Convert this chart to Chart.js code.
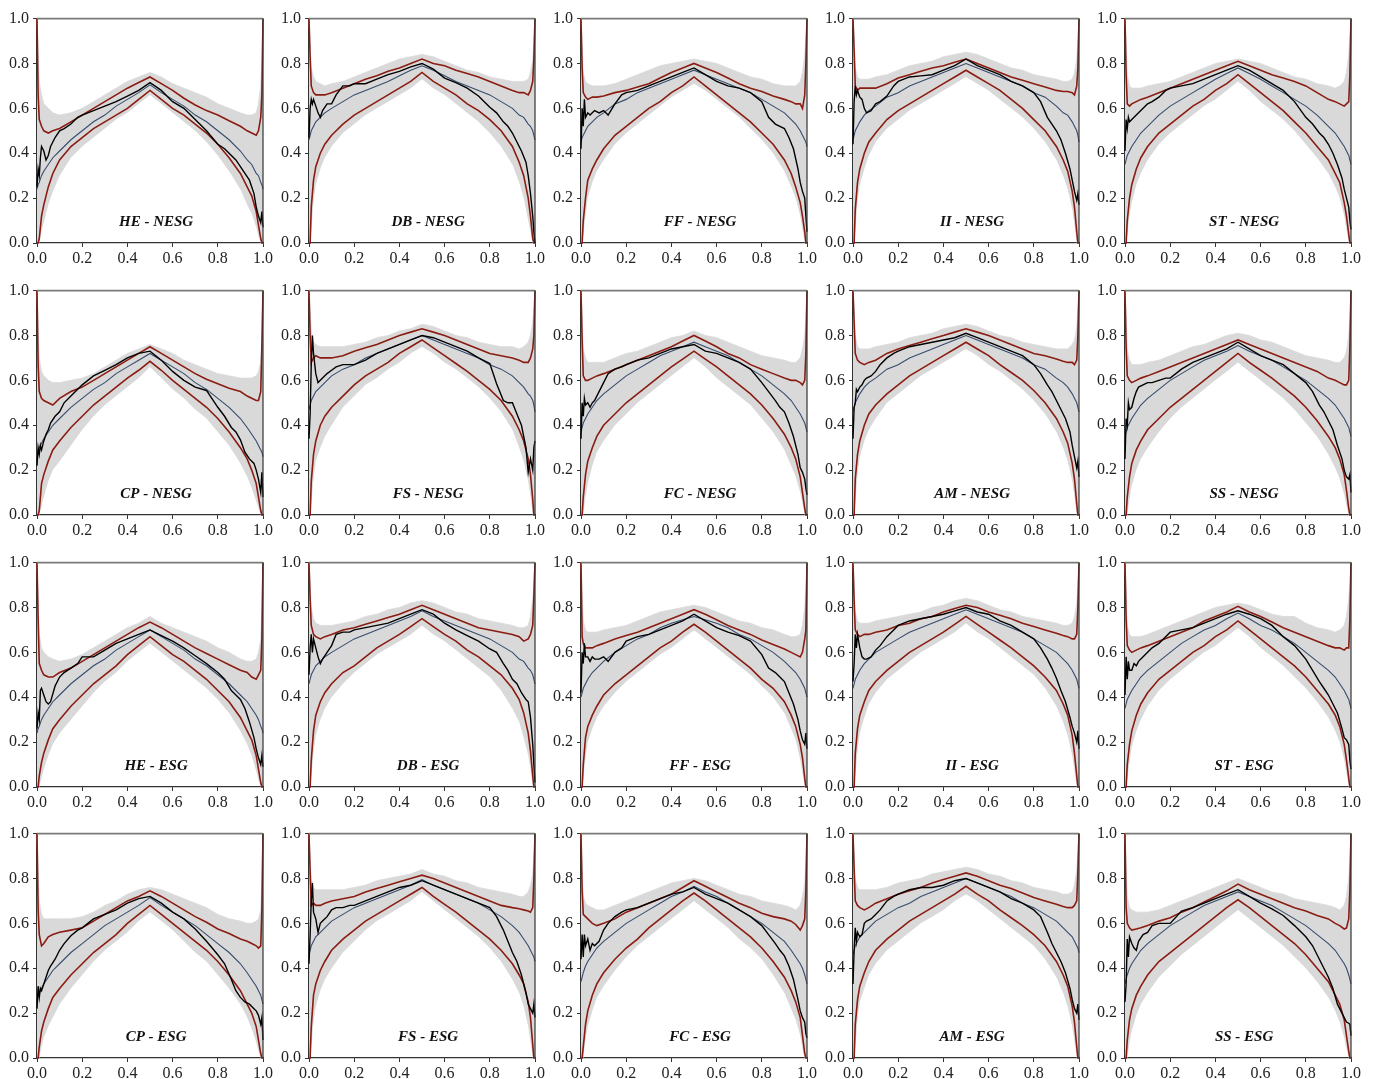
<!DOCTYPE html>
<html>
<head>
<meta charset="utf-8">
<script src="https://cdn.jsdelivr.net/npm/chart.js@4.4.1/dist/chart.umd.min.js"></script>
<style>
  html, body { margin: 0; padding: 0; background: #fff; }
  #grid { position: relative; width: 1377px; height: 1079px; overflow: hidden; }
  .cell { position: absolute; }
</style>
</head>
<body>
<div id="grid"></div>
<script>
// x positions shared by the simulation band, the envelopes and the theoretical curve
const xGrid = [0, .005, .01, .02, .03, .05, .07, .1, .15, .2, .25, .3, .35, .4, .45, .5,
  .55, .6, .65, .7, .75, .8, .85, .9, .93, .95, .97, .98, .99, .995, 1];

// x positions of the empirical curve
const xGridEmpirical = [0, .005, .01, .015, .02, .03, .04, .05, .06, .08, .1, .12, .15, .18, .2,
  .25, .3, .35, .4, .45, .5, .55, .6, .65, .7, .75, .8, .83, .86, .88, .9, .92, .94, .96, .97,
  .98, .99, .995, 1];

const panelTitles = [
  'HE - NESG', 'DB - NESG', 'FF - NESG', 'II - NESG', 'ST - NESG',
  'CP - NESG', 'FS - NESG', 'FC - NESG', 'AM - NESG', 'SS - NESG',
  'HE - ESG', 'DB - ESG', 'FF - ESG', 'II - ESG', 'ST - ESG',
  'CP - ESG', 'FS - ESG', 'FC - ESG', 'AM - ESG', 'SS - ESG'
];

// upper edge of the grey simulation band (one row per panel, same order as panelTitles)
const simBandUpper = [
  [1, .85, .72, .66, .62, .60, .58, .57, .58, .60, .63, .66, .69, .72, .74, .76, .74, .71, .69, .67, .65, .62, .60, .58, .57, .57, .58, .62, .70, .82, 1],
  [1, .88, .78, .74, .72, .71, .70, .71, .72, .74, .76, .78, .80, .82, .83, .84, .83, .81, .79, .77, .76, .74, .73, .72, .72, .72, .73, .76, .82, .90, 1],
  [1, .88, .76, .72, .71, .70, .70, .70, .71, .73, .75, .77, .79, .80, .81, .82, .81, .80, .78, .76, .74, .73, .71, .70, .70, .70, .72, .76, .84, .92, 1],
  [1, .90, .78, .74, .73, .73, .73, .74, .75, .77, .79, .80, .81, .83, .84, .85, .84, .82, .80, .78, .77, .75, .74, .73, .72, .72, .73, .76, .82, .90, 1],
  [1, .90, .75, .70, .69, .69, .69, .70, .71, .72, .74, .76, .78, .80, .81, .82, .81, .80, .78, .76, .74, .73, .71, .70, .69, .70, .72, .76, .84, .92, 1],
  [1, .82, .70, .64, .62, .60, .59, .59, .60, .61, .63, .66, .69, .72, .74, .76, .74, .72, .69, .67, .65, .63, .62, .61, .61, .61, .62, .64, .68, .80, 1],
  [1, .92, .82, .77, .76, .75, .75, .75, .75, .76, .77, .79, .80, .82, .83, .85, .84, .82, .80, .79, .77, .76, .75, .75, .74, .75, .77, .80, .86, .93, 1],
  [1, .88, .74, .70, .68, .68, .68, .68, .70, .72, .73, .75, .77, .79, .80, .82, .80, .79, .77, .75, .73, .71, .70, .69, .68, .68, .70, .74, .80, .88, 1],
  [1, .92, .80, .75, .74, .74, .74, .75, .76, .77, .79, .80, .81, .83, .84, .85, .84, .82, .80, .79, .77, .76, .75, .74, .74, .74, .76, .78, .84, .92, 1],
  [1, .88, .74, .69, .67, .67, .67, .68, .69, .71, .73, .75, .76, .78, .80, .81, .80, .78, .77, .75, .73, .71, .70, .69, .68, .68, .70, .73, .80, .88, 1],
  [1, .82, .68, .62, .60, .58, .57, .56, .57, .59, .62, .65, .68, .71, .73, .76, .73, .71, .69, .67, .65, .62, .60, .57, .56, .56, .57, .60, .66, .80, 1],
  [1, .90, .80, .75, .73, .72, .72, .72, .73, .74, .76, .77, .79, .80, .82, .83, .82, .80, .78, .77, .75, .74, .73, .72, .71, .71, .72, .76, .84, .92, 1],
  [1, .86, .74, .70, .69, .69, .69, .70, .71, .72, .74, .76, .78, .79, .80, .81, .80, .78, .76, .74, .73, .71, .70, .68, .67, .67, .68, .72, .80, .88, 1],
  [1, .90, .78, .74, .73, .73, .73, .74, .75, .76, .77, .78, .80, .81, .83, .84, .83, .81, .79, .78, .76, .75, .74, .73, .72, .72, .73, .76, .82, .90, 1],
  [1, .86, .72, .68, .67, .67, .67, .68, .70, .72, .74, .76, .78, .80, .81, .82, .81, .79, .77, .76, .76, .73, .71, .70, .69, .70, .72, .76, .84, .90, 1],
  [1, .82, .70, .64, .62, .62, .62, .62, .62, .63, .65, .68, .70, .73, .75, .76, .75, .73, .71, .69, .67, .64, .62, .61, .60, .60, .61, .62, .66, .80, 1],
  [1, .90, .80, .76, .75, .75, .75, .75, .75, .76, .77, .79, .80, .81, .82, .84, .82, .81, .79, .78, .76, .75, .74, .73, .72, .72, .74, .77, .82, .90, 1],
  [1, .86, .72, .69, .68, .67, .66, .66, .68, .70, .72, .74, .76, .78, .79, .80, .79, .77, .75, .73, .72, .70, .69, .68, .67, .66, .68, .72, .78, .88, 1],
  [1, .92, .80, .76, .75, .75, .75, .75, .76, .78, .79, .80, .82, .83, .84, .85, .84, .82, .81, .79, .78, .76, .75, .74, .73, .73, .74, .77, .84, .92, 1],
  [1, .86, .72, .67, .66, .65, .65, .65, .66, .68, .70, .72, .74, .76, .78, .80, .78, .76, .74, .73, .71, .70, .69, .68, .67, .66, .68, .72, .80, .88, 1]
];

// lower edge of the grey simulation band
const simBandLower = [
  [0, 0, 0, .05, .09, .17, .23, .30, .38, .43, .47, .51, .55, .58, .62, .66, .62, .58, .54, .50, .45, .39, .32, .24, .17, .13, .07, .03, 0, 0, 0],
  [0, 0, .05, .18, .26, .33, .38, .43, .49, .53, .57, .60, .63, .66, .69, .73, .69, .66, .62, .58, .54, .49, .43, .35, .27, .20, .10, .05, 0, 0, 0],
  [0, 0, .03, .12, .20, .27, .32, .37, .44, .49, .53, .57, .61, .65, .68, .71, .68, .64, .60, .56, .51, .46, .40, .32, .25, .20, .12, .06, 0, 0, 0],
  [0, 0, .05, .18, .26, .33, .39, .45, .51, .55, .59, .62, .65, .68, .71, .74, .71, .68, .64, .60, .56, .51, .45, .37, .30, .24, .15, .08, 0, 0, 0],
  [0, 0, .03, .12, .18, .26, .31, .37, .44, .49, .53, .57, .61, .64, .68, .72, .68, .63, .59, .55, .50, .44, .38, .31, .25, .20, .12, .06, 0, 0, 0],
  [0, 0, 0, .04, .08, .15, .20, .24, .31, .38, .44, .49, .53, .57, .61, .66, .61, .56, .52, .47, .43, .37, .31, .23, .17, .12, .06, .03, 0, 0, 0],
  [0, 0, .04, .16, .24, .30, .35, .40, .48, .53, .58, .61, .65, .68, .72, .75, .72, .68, .65, .61, .57, .52, .46, .38, .30, .24, .15, .08, 0, 0, 0],
  [0, 0, 0, .08, .14, .22, .28, .33, .40, .45, .50, .54, .58, .62, .66, .70, .66, .61, .57, .53, .49, .43, .37, .29, .22, .17, .10, .05, 0, 0, 0],
  [0, 0, .05, .18, .26, .33, .38, .43, .50, .54, .58, .62, .65, .68, .71, .74, .71, .67, .64, .60, .56, .51, .45, .37, .30, .24, .15, .08, 0, 0, 0],
  [0, 0, 0, .07, .13, .20, .25, .30, .37, .43, .48, .52, .56, .60, .64, .68, .64, .60, .56, .52, .47, .41, .35, .27, .21, .16, .09, .04, 0, 0, 0],
  [0, 0, 0, .04, .08, .14, .19, .24, .30, .36, .42, .47, .51, .56, .60, .64, .60, .56, .52, .48, .44, .39, .33, .25, .19, .14, .07, .03, 0, 0, 0],
  [0, 0, .04, .15, .23, .30, .35, .40, .46, .51, .55, .59, .62, .65, .68, .72, .68, .65, .61, .57, .53, .49, .43, .35, .29, .22, .14, .08, 0, 0, 0],
  [0, 0, .03, .13, .20, .26, .31, .36, .42, .47, .51, .55, .59, .62, .66, .70, .66, .62, .58, .54, .50, .45, .40, .33, .26, .21, .12, .06, 0, 0, 0],
  [0, 0, .04, .16, .24, .31, .37, .42, .48, .52, .56, .60, .63, .66, .69, .73, .69, .66, .62, .58, .54, .50, .44, .36, .29, .23, .14, .07, 0, 0, 0],
  [0, 0, .03, .11, .18, .25, .30, .36, .43, .48, .52, .56, .60, .63, .67, .71, .67, .62, .58, .54, .49, .44, .38, .31, .25, .20, .12, .06, 0, 0, 0],
  [0, 0, 0, .05, .09, .14, .18, .24, .31, .37, .43, .48, .52, .56, .61, .65, .61, .57, .52, .47, .43, .37, .31, .24, .18, .13, .07, .03, 0, 0, 0],
  [0, 0, .04, .16, .23, .30, .35, .40, .47, .52, .57, .61, .64, .67, .70, .74, .70, .66, .62, .58, .54, .49, .43, .35, .29, .23, .14, .07, 0, 0, 0],
  [0, 0, 0, .08, .14, .21, .27, .32, .39, .45, .50, .54, .58, .62, .66, .70, .66, .62, .58, .53, .49, .44, .37, .29, .22, .17, .10, .04, 0, 0, 0],
  [0, 0, .04, .17, .25, .31, .37, .42, .48, .52, .56, .60, .63, .66, .70, .73, .70, .66, .62, .58, .54, .50, .44, .36, .29, .23, .14, .07, 0, 0, 0],
  [0, 0, 0, .07, .12, .19, .24, .29, .36, .41, .46, .50, .54, .58, .62, .66, .62, .58, .54, .50, .45, .40, .34, .27, .21, .16, .09, .04, 0, 0, 0]
];

// upper confidence envelope (dark red)
const envelopeUpper = [
  [1, .66, .55, .52, .50, .49, .50, .51, .54, .57, .60, .63, .66, .69, .715, .74, .71, .68, .645, .615, .59, .57, .545, .52, .50, .49, .48, .50, .56, .66, 1],
  [1, .83, .70, .67, .66, .66, .66, .67, .69, .71, .73, .745, .765, .78, .80, .82, .80, .79, .77, .755, .74, .72, .70, .68, .67, .67, .66, .68, .72, .82, 1],
  [1, .78, .67, .65, .64, .65, .65, .655, .67, .68, .695, .71, .735, .76, .78, .80, .78, .76, .735, .71, .69, .675, .655, .64, .63, .62, .62, .60, .66, .80, 1],
  [1, .86, .70, .68, .69, .69, .69, .69, .71, .735, .75, .765, .78, .79, .805, .82, .80, .78, .76, .74, .725, .71, .695, .68, .675, .675, .67, .66, .70, .78, 1],
  [1, .75, .62, .61, .62, .63, .64, .65, .67, .69, .71, .73, .75, .77, .79, .81, .79, .77, .75, .735, .72, .70, .67, .64, .63, .62, .61, .62, .63, .75, 1],
  [1, .67, .55, .52, .51, .50, .49, .52, .55, .57, .60, .63, .66, .69, .72, .75, .72, .69, .66, .63, .605, .585, .565, .55, .53, .52, .51, .51, .55, .75, 1],
  [1, .80, .68, .70, .71, .70, .70, .70, .71, .73, .745, .76, .78, .80, .815, .83, .815, .80, .78, .76, .74, .72, .71, .70, .69, .68, .68, .70, .74, .80, 1],
  [1, .78, .62, .60, .60, .61, .62, .63, .65, .67, .69, .71, .73, .75, .775, .80, .775, .75, .72, .70, .67, .65, .63, .61, .60, .60, .59, .58, .60, .72, 1],
  [1, .86, .72, .69, .68, .67, .68, .69, .72, .74, .755, .77, .785, .80, .815, .83, .815, .80, .78, .76, .74, .72, .71, .695, .685, .68, .68, .67, .69, .80, 1],
  [1, .75, .62, .60, .59, .60, .61, .62, .64, .66, .68, .70, .72, .74, .76, .78, .76, .74, .72, .70, .68, .66, .64, .61, .60, .59, .58, .58, .60, .75, 1],
  [1, .75, .55, .52, .50, .49, .49, .51, .53, .56, .59, .62, .65, .68, .71, .735, .71, .68, .65, .62, .595, .57, .545, .52, .51, .49, .48, .50, .52, .66, 1],
  [1, .84, .72, .68, .67, .66, .67, .68, .70, .71, .725, .74, .755, .77, .79, .81, .79, .77, .75, .73, .71, .70, .69, .68, .67, .65, .66, .68, .72, .85, 1],
  [1, .67, .64, .62, .62, .62, .63, .64, .66, .675, .69, .71, .73, .75, .77, .79, .77, .745, .72, .70, .68, .655, .635, .615, .60, .59, .58, .60, .66, .70, 1],
  [1, .83, .70, .68, .67, .68, .68, .69, .70, .72, .73, .75, .76, .78, .795, .81, .80, .78, .765, .75, .73, .715, .70, .685, .675, .67, .66, .66, .68, .80, 1],
  [1, .75, .63, .61, .60, .61, .62, .63, .65, .67, .69, .71, .74, .76, .78, .805, .78, .76, .735, .71, .69, .67, .65, .63, .62, .62, .61, .62, .62, .75, 1],
  [1, .66, .55, .50, .51, .54, .55, .56, .57, .58, .61, .64, .67, .70, .72, .745, .72, .69, .66, .63, .605, .575, .555, .53, .52, .51, .50, .49, .50, .66, 1],
  [1, .83, .68, .69, .68, .68, .69, .70, .71, .72, .74, .755, .77, .785, .80, .815, .80, .78, .76, .74, .72, .70, .68, .67, .665, .66, .655, .65, .67, .80, 1],
  [1, .75, .64, .63, .62, .60, .59, .60, .62, .65, .67, .69, .71, .73, .76, .79, .765, .74, .715, .69, .67, .645, .63, .62, .61, .595, .57, .59, .62, .75, 1],
  [1, .84, .70, .68, .67, .66, .67, .69, .71, .73, .745, .76, .78, .795, .81, .825, .81, .79, .77, .755, .735, .715, .70, .685, .675, .67, .67, .68, .70, .83, 1],
  [1, .67, .60, .58, .57, .575, .58, .59, .61, .625, .65, .67, .695, .72, .745, .775, .75, .73, .71, .69, .67, .655, .635, .62, .60, .59, .575, .58, .62, .75, 1]
];

// lower confidence envelope (dark red)
const envelopeLower = [
  [0, 0, .02, .12, .17, .25, .31, .37, .43, .47, .51, .54, .57, .60, .64, .68, .64, .60, .57, .53, .49, .44, .38, .31, .25, .21, .14, .08, .02, 0, 0],
  [0, 0, .16, .28, .34, .40, .44, .48, .53, .57, .60, .63, .66, .69, .72, .76, .72, .69, .66, .62, .59, .55, .50, .43, .36, .30, .20, .12, .02, 0, 0],
  [0, 0, .10, .20, .28, .33, .37, .42, .48, .52, .56, .60, .63, .67, .70, .74, .70, .66, .62, .58, .54, .49, .44, .37, .31, .25, .18, .12, .05, 0, 0],
  [0, 0, .15, .27, .33, .40, .45, .49, .55, .59, .62, .65, .68, .71, .74, .77, .74, .71, .68, .64, .60, .55, .50, .43, .37, .32, .23, .16, .05, 0, 0],
  [0, 0, .10, .20, .26, .33, .38, .43, .49, .53, .57, .61, .64, .68, .71, .75, .71, .67, .63, .59, .54, .49, .43, .37, .31, .27, .18, .12, .04, 0, 0],
  [0, 0, .02, .14, .18, .24, .29, .33, .39, .44, .49, .53, .57, .61, .645, .685, .645, .60, .56, .52, .48, .43, .37, .30, .25, .20, .14, .08, .02, 0, 0],
  [0, 0, .15, .27, .33, .40, .44, .48, .53, .58, .62, .65, .68, .72, .75, .78, .745, .71, .675, .64, .60, .56, .51, .44, .38, .33, .25, .18, .07, 0, 0],
  [0, 0, .08, .18, .24, .30, .35, .40, .45, .50, .54, .58, .62, .66, .695, .73, .695, .66, .62, .58, .54, .49, .43, .36, .30, .25, .17, .10, .03, 0, 0],
  [0, 0, .16, .27, .33, .40, .45, .49, .54, .58, .62, .65, .68, .71, .74, .77, .74, .71, .67, .635, .60, .555, .50, .43, .37, .32, .23, .16, .05, 0, 0],
  [0, 0, .08, .17, .23, .29, .33, .38, .43, .48, .52, .56, .60, .64, .68, .72, .68, .645, .61, .57, .53, .48, .42, .35, .30, .25, .18, .11, .03, 0, 0],
  [0, 0, .05, .11, .15, .21, .26, .30, .36, .41, .46, .50, .54, .59, .63, .67, .63, .59, .56, .52, .48, .43, .38, .31, .25, .21, .14, .08, .02, 0, 0],
  [0, 0, .12, .25, .32, .38, .42, .46, .51, .54, .58, .62, .65, .68, .715, .75, .715, .68, .65, .61, .58, .54, .50, .44, .39, .33, .24, .16, .05, 0, 0],
  [0, 0, .10, .22, .27, .32, .36, .41, .46, .50, .54, .58, .62, .65, .69, .725, .69, .65, .61, .57, .53, .48, .44, .38, .32, .27, .19, .13, .04, 0, 0],
  [0, 0, .15, .26, .32, .38, .43, .47, .52, .56, .60, .63, .66, .69, .725, .76, .725, .69, .655, .62, .58, .54, .49, .43, .37, .32, .23, .15, .05, 0, 0],
  [0, 0, .10, .19, .25, .32, .37, .42, .48, .52, .56, .60, .63, .67, .70, .74, .70, .66, .62, .58, .54, .49, .43, .37, .32, .27, .19, .12, .04, 0, 0],
  [0, 0, .05, .12, .16, .22, .27, .31, .37, .42, .47, .51, .55, .60, .64, .68, .64, .60, .56, .52, .48, .43, .37, .30, .24, .20, .14, .08, .02, 0, 0],
  [0, 0, .14, .28, .33, .39, .43, .48, .53, .57, .61, .64, .67, .70, .73, .76, .72, .685, .65, .61, .57, .53, .48, .42, .37, .33, .25, .18, .06, 0, 0],
  [0, 0, .05, .15, .21, .28, .33, .38, .44, .49, .53, .58, .62, .66, .70, .735, .70, .66, .62, .58, .54, .49, .43, .36, .30, .25, .18, .10, .02, 0, 0],
  [0, 0, .15, .26, .32, .38, .43, .48, .53, .57, .61, .64, .67, .70, .73, .765, .73, .70, .66, .625, .59, .55, .50, .43, .37, .32, .23, .16, .05, 0, 0],
  [0, 0, .08, .17, .22, .28, .32, .37, .43, .47, .51, .55, .59, .63, .67, .705, .67, .63, .59, .55, .51, .46, .40, .34, .28, .24, .17, .10, .03, 0, 0]
];

// theoretical curve (slate blue)
const theoretical = [
  [.24, .26, .27, .30, .32, .35, .38, .41, .46, .50, .54, .57, .61, .64, .67, .705, .67, .64, .61, .57, .54, .50, .46, .41, .37, .35, .31, .30, .27, .26, .24],
  [.46, .48, .50, .52, .54, .56, .58, .60, .63, .66, .68, .70, .72, .745, .77, .79, .77, .745, .72, .70, .68, .66, .63, .60, .57, .56, .53, .52, .50, .48, .46],
  [.45, .47, .48, .50, .52, .54, .56, .58, .62, .64, .67, .69, .71, .73, .75, .77, .75, .73, .71, .69, .67, .64, .61, .58, .55, .53, .50, .48, .46, .45, .43],
  [.46, .48, .50, .52, .54, .57, .59, .61, .65, .67, .70, .72, .74, .76, .78, .80, .78, .76, .74, .72, .70, .67, .65, .61, .58, .57, .54, .52, .50, .48, .45],
  [.35, .37, .39, .41, .43, .46, .49, .52, .57, .61, .64, .67, .70, .73, .755, .78, .755, .73, .70, .67, .64, .61, .57, .52, .49, .46, .43, .41, .39, .37, .35],
  [.27, .29, .30, .32, .34, .37, .40, .43, .48, .52, .56, .59, .63, .66, .69, .72, .69, .66, .63, .59, .56, .52, .48, .43, .39, .36, .33, .31, .29, .28, .26],
  [.47, .49, .51, .53, .55, .57, .59, .62, .65, .67, .70, .72, .74, .76, .78, .80, .78, .76, .74, .72, .70, .67, .65, .62, .59, .57, .54, .53, .51, .49, .46],
  [.37, .39, .41, .43, .45, .48, .51, .54, .58, .62, .65, .68, .71, .73, .75, .77, .75, .73, .71, .68, .65, .62, .58, .54, .51, .48, .45, .43, .41, .39, .37],
  [.46, .48, .50, .52, .54, .57, .59, .61, .65, .67, .70, .72, .74, .76, .78, .80, .78, .76, .74, .72, .70, .67, .65, .61, .59, .57, .54, .52, .50, .48, .46],
  [.35, .37, .39, .41, .43, .46, .49, .52, .56, .60, .63, .66, .69, .71, .73, .755, .73, .71, .69, .66, .63, .60, .56, .52, .49, .46, .43, .41, .39, .37, .35],
  [.24, .26, .27, .30, .32, .35, .38, .41, .46, .50, .54, .57, .61, .64, .67, .70, .67, .64, .61, .57, .54, .50, .46, .41, .38, .35, .32, .30, .27, .26, .24],
  [.46, .48, .50, .52, .54, .56, .58, .60, .63, .66, .68, .70, .72, .74, .76, .785, .76, .74, .72, .70, .68, .66, .63, .60, .57, .56, .53, .52, .50, .48, .46],
  [.40, .42, .44, .46, .48, .51, .53, .56, .60, .63, .66, .68, .71, .73, .745, .76, .745, .73, .71, .68, .66, .63, .60, .56, .53, .51, .48, .46, .44, .42, .40],
  [.44, .46, .48, .50, .52, .55, .57, .60, .63, .66, .69, .71, .73, .75, .77, .79, .77, .75, .73, .71, .69, .66, .63, .60, .57, .55, .52, .50, .48, .46, .44],
  [.35, .37, .39, .41, .43, .46, .49, .52, .56, .60, .64, .67, .70, .72, .75, .775, .75, .72, .70, .67, .64, .60, .56, .52, .49, .46, .43, .41, .39, .37, .35],
  [.27, .28, .29, .31, .33, .36, .39, .42, .47, .51, .55, .59, .62, .65, .68, .715, .68, .65, .62, .59, .55, .51, .47, .42, .38, .35, .32, .30, .28, .26, .24],
  [.46, .48, .50, .52, .54, .56, .58, .61, .64, .67, .69, .71, .73, .75, .77, .795, .77, .75, .73, .71, .69, .66, .63, .59, .56, .53, .50, .48, .46, .45, .43],
  [.34, .36, .38, .41, .43, .46, .49, .52, .56, .60, .63, .66, .69, .72, .74, .765, .74, .72, .69, .66, .63, .60, .56, .52, .48, .45, .42, .40, .37, .35, .33],
  [.46, .48, .50, .52, .54, .56, .58, .61, .64, .67, .69, .72, .74, .76, .78, .80, .78, .76, .74, .72, .69, .67, .64, .61, .58, .56, .54, .52, .50, .49, .47],
  [.33, .35, .37, .40, .42, .45, .48, .51, .55, .59, .62, .65, .68, .70, .72, .74, .72, .70, .68, .65, .62, .59, .55, .51, .48, .45, .42, .40, .37, .35, .33]
];

// empirical curve (black), sampled on xGridEmpirical
const empirical = [
  [.25, .33, .30, .38, .43, .41, .37, .39, .43, .47, .50, .51, .53, .56, .57, .59, .61, .63, .655, .68, .715, .68, .63, .60, .55, .50, .44, .42, .39, .37, .34, .31, .28, .22, .16, .12, .09, .14, .07],
  [.47, .60, .64, .62, .64, .61, .58, .56, .59, .62, .62, .66, .70, .70, .71, .71, .73, .75, .765, .785, .80, .775, .735, .715, .69, .655, .605, .58, .54, .52, .49, .45, .41, .36, .30, .22, .12, .05, 0],
  [.42, .60, .52, .64, .56, .58, .57, .58, .59, .58, .59, .57, .62, .66, .67, .68, .70, .72, .74, .76, .78, .75, .72, .70, .69, .67, .63, .56, .53, .52, .51, .47, .42, .33, .27, .23, .20, .12, .05],
  [.44, .63, .70, .66, .68, .65, .64, .60, .58, .59, .62, .63, .655, .70, .72, .74, .745, .75, .77, .79, .82, .79, .77, .75, .72, .70, .67, .63, .56, .53, .50, .46, .40, .33, .28, .23, .19, .22, .17],
  [.41, .55, .51, .56, .54, .55, .56, .57, .58, .60, .62, .63, .65, .68, .69, .70, .71, .73, .75, .77, .79, .77, .74, .71, .68, .63, .56, .53, .49, .47, .44, .40, .35, .29, .24, .20, .16, .10, .06],
  [.22, .30, .27, .31, .29, .33, .36, .38, .41, .44, .46, .50, .53, .56, .58, .62, .645, .67, .70, .72, .73, .69, .64, .60, .57, .555, .48, .44, .39, .37, .335, .28, .25, .23, .20, .16, .10, .19, .08],
  [.34, .45, .67, .80, .72, .63, .59, .60, .61, .63, .645, .66, .67, .67, .67, .69, .72, .74, .76, .78, .80, .79, .77, .75, .73, .70, .675, .585, .51, .50, .50, .45, .40, .30, .19, .25, .20, .30, .33],
  [.34, .50, .44, .52, .49, .50, .48, .50, .51, .55, .59, .63, .65, .66, .67, .69, .70, .72, .74, .75, .76, .73, .72, .70, .68, .65, .59, .55, .51, .48, .46, .41, .35, .27, .21, .19, .16, .12, .09],
  [.34, .48, .50, .56, .55, .57, .58, .60, .61, .62, .64, .67, .70, .72, .73, .75, .76, .77, .78, .79, .81, .79, .77, .75, .73, .71, .67, .63, .58, .55, .51, .47, .43, .37, .31, .26, .21, .24, .17],
  [.25, .43, .40, .50, .47, .48, .52, .55, .57, .58, .59, .59, .60, .61, .61, .65, .68, .70, .72, .74, .77, .74, .71, .69, .67, .63, .59, .55, .49, .46, .42, .38, .31, .25, .20, .17, .16, .18, .10],
  [.26, .33, .30, .43, .44, .41, .38, .37, .38, .45, .49, .51, .53, .55, .58, .58, .61, .64, .66, .68, .70, .675, .65, .62, .585, .55, .51, .48, .43, .41, .39, .35, .29, .22, .17, .13, .10, .14, .09],
  [.50, .62, .68, .60, .66, .62, .58, .55, .57, .60, .63, .68, .69, .69, .70, .71, .72, .73, .75, .77, .79, .77, .73, .70, .675, .65, .615, .60, .55, .52, .48, .46, .42, .39, .38, .31, .19, .10, .02],
  [.42, .60, .55, .64, .58, .58, .56, .58, .57, .57, .58, .56, .60, .62, .65, .67, .68, .70, .72, .74, .77, .74, .71, .69, .675, .65, .59, .53, .51, .49, .47, .42, .37, .30, .25, .21, .19, .24, .17],
  [.47, .55, .68, .62, .68, .62, .58, .57, .57, .58, .61, .63, .67, .70, .72, .74, .75, .76, .77, .785, .80, .78, .77, .74, .72, .69, .66, .62, .57, .53, .485, .43, .38, .31, .27, .24, .20, .25, .17],
  [.41, .58, .48, .56, .52, .52, .55, .54, .56, .58, .60, .62, .64, .67, .69, .70, .71, .73, .75, .77, .785, .77, .75, .72, .67, .63, .57, .52, .47, .44, .41, .37, .33, .26, .22, .21, .19, .12, .08],
  [.22, .32, .27, .31, .30, .33, .36, .39, .41, .44, .48, .51, .545, .57, .58, .62, .64, .66, .69, .71, .72, .69, .65, .62, .575, .52, .46, .42, .35, .30, .27, .25, .24, .22, .21, .19, .15, .18, .08],
  [.42, .55, .70, .78, .65, .62, .56, .60, .61, .63, .66, .67, .67, .68, .68, .70, .72, .74, .76, .77, .79, .77, .75, .73, .71, .69, .67, .63, .57, .52, .47, .43, .37, .29, .24, .22, .20, .24, .18],
  [.44, .55, .45, .55, .50, .53, .48, .51, .50, .52, .57, .60, .63, .65, .66, .67, .69, .71, .73, .74, .76, .73, .71, .69, .66, .63, .59, .55, .51, .48, .455, .41, .35, .26, .21, .18, .16, .11, .09],
  [.33, .48, .58, .52, .56, .54, .55, .60, .61, .62, .64, .66, .70, .72, .73, .75, .76, .76, .77, .79, .80, .78, .76, .74, .71, .69, .66, .63, .56, .51, .47, .43, .38, .31, .26, .22, .20, .24, .17],
  [.25, .33, .53, .45, .54, .51, .49, .48, .52, .55, .56, .59, .60, .60, .60, .655, .67, .69, .71, .73, .75, .72, .69, .665, .635, .59, .54, .50, .44, .40, .36, .31, .24, .20, .18, .16, .155, .15, .10]
];

// ---- layout: 5 columns x 4 rows of square plot areas ----
const PLOT = 226;
const colLeft = [37, 309, 581, 853, 1125];
const rowTop = [17, 289, 561, 832];
const PAD_L = 40, PAD_T = 12, PAD_R = 12, PAD_B = 30;

const RED = '#8a1c12';
const SLATE = '#354b6e';
const BAND = '#d9d9d9';
const SERIF = '"Liberation Serif", "Times New Roman", serif';

function pairs(xs, ys) {
  return xs.map((x, i) => ({ x: x, y: ys[i] }));
}

// panel title and the top/right frame lines
const panelDecor = {
  id: 'panelDecor',
  afterDatasetsDraw(chart, args, opts) {
    const { ctx, chartArea: a, scales } = chart;
    ctx.save();
    ctx.strokeStyle = '#7a7a7a';
    ctx.lineWidth = 1.6;
    ctx.beginPath();
    ctx.moveTo(a.left, a.top);
    ctx.lineTo(a.right, a.top);
    ctx.stroke();
    ctx.strokeStyle = '#333';
    ctx.lineWidth = 1.2;
    ctx.beginPath();
    ctx.moveTo(a.right, a.top);
    ctx.lineTo(a.right, a.bottom);
    ctx.stroke();
    ctx.font = 'bold italic 15px ' + SERIF;
    ctx.fillStyle = '#111';
    ctx.textAlign = 'center';
    ctx.textBaseline = 'middle';
    ctx.fillText(opts.text, scales.x.getPixelForValue(0.527), scales.y.getPixelForValue(0.095));
    ctx.restore();
  }
};

function axis(isX) {
  return {
    type: 'linear',
    min: 0,
    max: 1,
    grid: { display: true, drawOnChartArea: false, drawTicks: true, tickLength: 4, color: '#333', lineWidth: 1 },
    border: { display: true, color: '#333', width: 1.2 },
    ticks: {
      stepSize: 0.2,
      autoSkip: false,
      maxRotation: 0,
      padding: isX ? 2 : 4,
      color: '#222',
      font: { family: SERIF, size: 16 },
      callback: (v) => Number(v).toFixed(1)
    },
    afterFit(scale) {
      if (isX) scale.height = PAD_B; else scale.width = PAD_L;
    }
  };
}

const grid = document.getElementById('grid');

panelTitles.forEach((title, p) => {
  const col = p % 5, row = Math.floor(p / 5);
  const cv = document.createElement('canvas');
  const w = PLOT + PAD_L + PAD_R, h = PLOT + PAD_T + PAD_B;
  cv.width = w; cv.height = h;
  cv.className = 'cell';
  cv.style.left = (colLeft[col] - PAD_L) + 'px';
  cv.style.top = (rowTop[row] - PAD_T) + 'px';
  cv.style.width = w + 'px';
  cv.style.height = h + 'px';
  grid.appendChild(cv);

  const lineBase = { pointRadius: 0, tension: 0, fill: false, clip: 3 };

  new Chart(cv, {
    type: 'line',
    data: {
      datasets: [
        Object.assign({}, lineBase, {
          label: 'band lower', data: pairs(xGrid, simBandLower[p]),
          borderWidth: 0, borderColor: BAND, order: 6
        }),
        Object.assign({}, lineBase, {
          label: 'band upper', data: pairs(xGrid, simBandUpper[p]),
          borderWidth: 0.8, borderColor: BAND, backgroundColor: BAND, fill: '-1', order: 5
        }),
        Object.assign({}, lineBase, {
          label: 'theoretical', data: pairs(xGrid, theoretical[p]),
          borderWidth: 1.1, borderColor: SLATE, order: 4
        }),
        Object.assign({}, lineBase, {
          label: 'envelope lower', data: pairs(xGrid, envelopeLower[p]),
          borderWidth: 1.6, borderColor: RED, order: 3
        }),
        Object.assign({}, lineBase, {
          label: 'envelope upper', data: pairs(xGrid, envelopeUpper[p]),
          borderWidth: 1.6, borderColor: RED, order: 2
        }),
        Object.assign({}, lineBase, {
          label: 'empirical', data: pairs(xGridEmpirical, empirical[p]),
          borderWidth: 1.4, borderColor: '#000', order: 1
        })
      ]
    },
    options: {
      responsive: false,
      animation: false,
      events: [],
      layout: { padding: { left: 0, top: PAD_T, right: PAD_R, bottom: 0 } },
      scales: { x: axis(true), y: axis(false) },
      plugins: {
        legend: { display: false },
        tooltip: { enabled: false },
        panelDecor: { text: title }
      }
    },
    plugins: [panelDecor]
  });
});
</script>
</body>
</html>
